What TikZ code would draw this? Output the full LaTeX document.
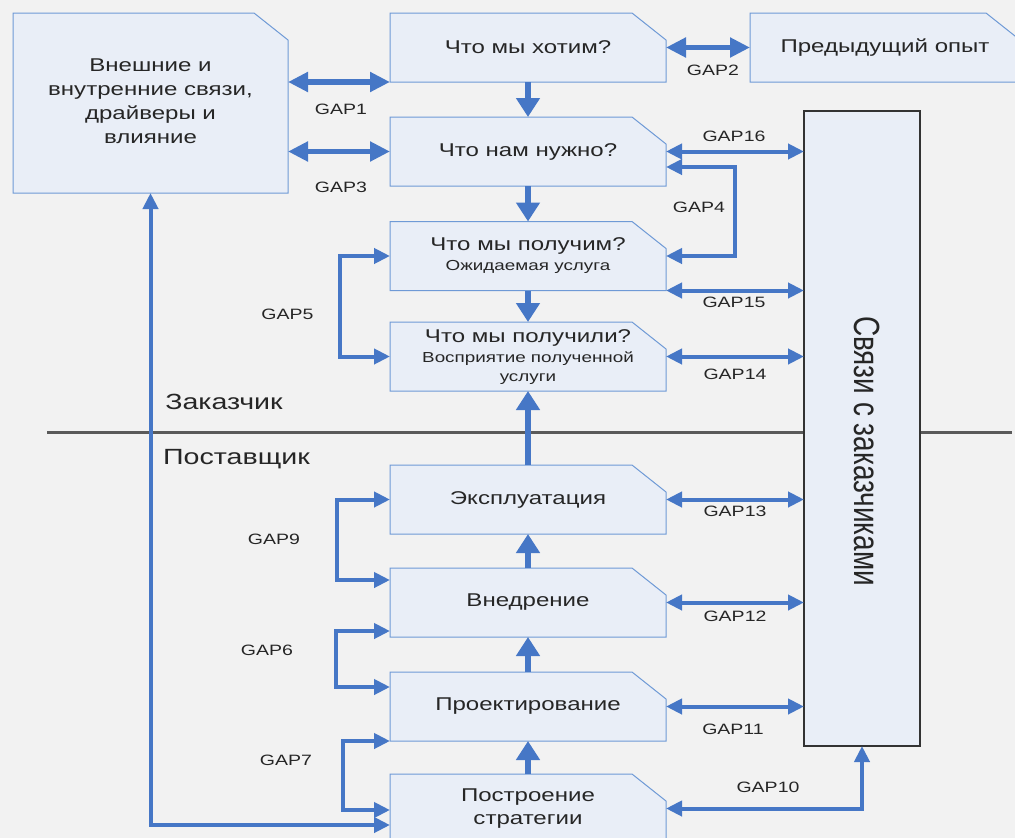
\documentclass[tikz,border=0pt]{standalone}
\usepackage{fontspec}
\setmainfont{Liberation Sans}
\usepackage{graphicx}
\usetikzlibrary{arrows.meta,calc}
\definecolor{bgc}{HTML}{F2F2F2}
\definecolor{boxf}{HTML}{E9EEF7}
\definecolor{boxd}{HTML}{6F9AD6}
\definecolor{ac}{HTML}{4677C6}
\definecolor{txt}{HTML}{262626}
\definecolor{sepc}{HTML}{5A5A5A}
\definecolor{kd}{HTML}{333333}
\newcommand\hs[1]{\scalebox{1.3}[1]{#1}}
\newcommand\fs[1]{\fontsize{#1}{#1}\selectfont}
\pgfdeclarelayer{background}
\pgfsetlayers{background,main}
\begin{document}
\begin{tikzpicture}[x=1pt,y=-1pt,
  every node/.style={text=txt},
  box/.style={rectangle, inner sep=0pt, outer sep=0pt, minimum width=276pt, minimum height=69pt, align=center, font=\fs{18.5}},
  cutline/.style={fill=boxf, draw=boxd, line width=1pt},
  gaplbl/.style={inner sep=0pt, font=\fs{15}},
  sidelbl/.style={inner sep=0pt, font=\fs{22}},
  flow/.style={draw=ac, line width=6.5pt, -{Triangle[length=19pt,width=23pt]}},
  gapm/.style={draw=ac, line width=5.5pt, {Triangle[length=20pt,width=19pt]}-{Triangle[length=20pt,width=19pt]}},
  gapb/.style={draw=ac, line width=4pt, {Triangle[length=16pt,width=15pt]}-{Triangle[length=16pt,width=15pt]}}
]
\useasboundingbox (0,0) rectangle (1015,838);
\begin{pgfonlayer}{background}
  \fill[bgc] (0,0) rectangle (1015,838);
\end{pgfonlayer}

% boxes
\node[box, minimum width=275pt, minimum height=180pt, font=\fontsize{18.5}{24}\selectfont] (L) at (150.5,103)
  {\hs{\begin{tabular}{@{}c@{}}Внешние и\\внутренние связи,\\драйверы и\\влияние\end{tabular}}};
\node[box] (A) at (528,47.5) {\hs{Что мы хотим?}};
\node[box, minimum width=270pt] (P) at (885,47.5) {\hs{Предыдущий опыт}};
\node[box] (B) at (528,151.5) {\hs{Что нам нужно?}};
\node[box, font=\fontsize{14.5}{20}\selectfont] (C) at (528,256)
  {\hs{\begin{tabular}{@{}c@{}}{\fs{18.5}Что мы получим?}\\Ожидаемая услуга\end{tabular}}};
\node[box, font=\fontsize{14.5}{19.5}\selectfont] (D) at (528,356.5) {};
\node[inner sep=0pt, font=\fontsize{14.5}{19.5}\selectfont, align=center] (Dt) at (528,358.5)
  {\hs{\begin{tabular}{@{}c@{}}{\fs{18.5}Что мы получили?}\\Восприятие полученной\\услуги\end{tabular}}};
\node[box] (E) at (528,499.5) {\hs{Эксплуатация}};
\node[box] (F) at (528,602.5) {\hs{Внедрение}};
\node[box] (G) at (528,706.5) {\hs{Проектирование}};
\node[box, font=\fontsize{18.5}{22.5}\selectfont] (H) at (528,808.5)
  {\hs{\begin{tabular}{@{}c@{}}Построение\\стратегии\end{tabular}}};
\node[rectangle, inner sep=0pt, outer sep=0pt, minimum width=116pt, minimum height=635pt,
      fill=boxf, draw=kd, line width=1.5pt] (K) at (862,428.5) {};
\node[inner sep=0pt] (Kt) at (867,451)
  {\rotatebox{-90}{\scalebox{1}[1.3]{\fontsize{28}{30}\selectfont Связи с заказчиками}}};

% box outlines with cut corner
\begin{pgfonlayer}{background}
  \draw[sepc, line width=3pt] (47,432) coordinate (s1) -- (1012,432) coordinate (s2);
  \foreach \n in {L,A,P,B,C,D,E,F,G,H}
    \draw[cutline] (\n.north west) -- ([xshift=-34pt]\n.north east) -- ([yshift=-27pt]\n.north east)
      -- (\n.south east) -- (\n.south west) -- cycle;
\end{pgfonlayer}

% side labels
\node[sidelbl] (zk) at (224,402) {\hs{Заказчик}};
\node[sidelbl] (ps) at (236.5,459) {\hs{Поставщик}};

% flow arrows
\draw[flow] (A.south) -- (B.north);
\draw[flow] (B.south) -- (C.north);
\draw[flow] (C.south) -- (D.north);
\draw[flow] (E.north) -- (D.south);
\draw[flow] (F.north) -- (E.south);
\draw[flow] (G.north) -- (F.south);
\draw[flow] (H.north) -- (G.south);

% gaps, upper part
\draw[gapm] (L.east |- A.south west) -- (A.south west);
\draw[gapm] (L.east |- B.west) -- (B.west);
\draw[gapm] (A.east) -- (P.west);
\draw[gapb] (B.east) -- (B.east -| K.west);
\coordinate (g4) at (735,167);
\draw[gapb] (B.east |- g4) -- (g4) |- (C.east);
\draw[gapb] (C.south east) -- (C.south east -| K.west);
\draw[gapb] (D.east) -- (D.east -| K.west);
\coordinate (g5) at (340,0);
\draw[gapb] (C.west) -- (C.west -| g5) -- (D.west -| g5) -- (D.west);

% gaps, lower part
\draw[gapb] (E.east) -- (E.east -| K.west);
\draw[gapb] (F.east) -- (F.east -| K.west);
\draw[gapb] (G.east) -- (G.east -| K.west);
\draw[gapb] (H.east) -| (K.south);
\coordinate (g9) at (337,580);
\draw[gapb] (E.west) -- (E.west -| g9) -- (g9) -- (g9 -| F.west);
\coordinate (g6a) at (336,631);
\coordinate (g6b) at (336,687);
\draw[gapb] (g6a -| F.west) -- (g6a) -- (g6b) -- (g6b -| G.west);
\coordinate (g7) at (343,810);
\draw[gapb] (G.south west) -- (G.south west -| g7) -- (g7) -- (g7 -| H.west);
\coordinate (lg) at (150.5,825);
\draw[gapb] (lg -| H.west) -- (lg) -- (L.south);

% gap labels
\node[gaplbl] (t1) at (341,109.5) {\hs{GAP1}};
\node[gaplbl] (t2) at (713,70) {\hs{GAP2}};
\node[gaplbl] (t3) at (341,187) {\hs{GAP3}};
\node[gaplbl] (t4) at (699,207.5) {\hs{GAP4}};
\node[gaplbl] (t5) at (287.5,314.5) {\hs{GAP5}};
\node[gaplbl] (t6) at (267,650.5) {\hs{GAP6}};
\node[gaplbl] (t7) at (286,760) {\hs{GAP7}};
\node[gaplbl] (t9) at (274,539.5) {\hs{GAP9}};
\node[gaplbl] (t10) at (768,787) {\hs{GAP10}};
\node[gaplbl] (t11) at (733,729) {\hs{GAP11}};
\node[gaplbl] (t12) at (735,616) {\hs{GAP12}};
\node[gaplbl] (t13) at (735,511) {\hs{GAP13}};
\node[gaplbl] (t14) at (735,374) {\hs{GAP14}};
\node[gaplbl] (t15) at (734,302) {\hs{GAP15}};
\node[gaplbl] (t16) at (734,136) {\hs{GAP16}};
\end{tikzpicture}
\end{document}
